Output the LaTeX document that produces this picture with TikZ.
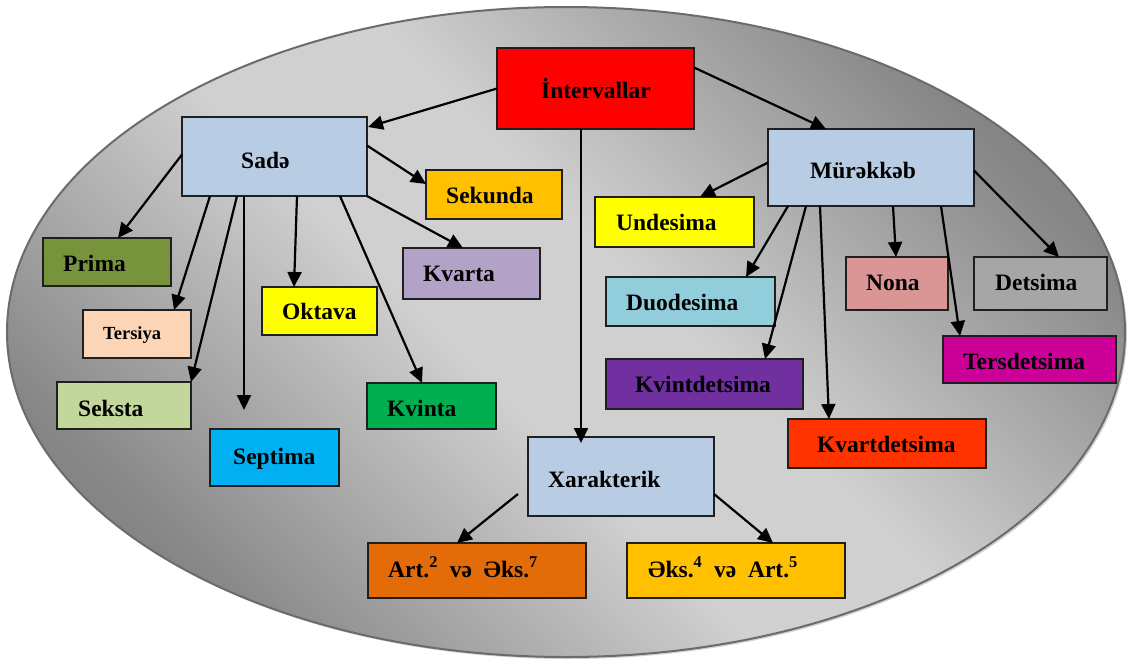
\documentclass[tikz,border=0pt]{standalone}
\usepackage{fontspec}
\setmainfont{Liberation Serif}
\usetikzlibrary{arrows.meta,calc,shadings}
\definecolor{gdark}{HTML}{858585}
\definecolor{glight}{HTML}{D0D0D0}
\definecolor{cred}{HTML}{FF0000}
\definecolor{cblue}{HTML}{B8CCE4}
\definecolor{corange}{HTML}{FFC000}
\definecolor{cyel}{HTML}{FFFF00}
\definecolor{cprima}{HTML}{77933C}
\definecolor{ckvarta}{HTML}{B2A2C7}
\definecolor{ctersiya}{HTML}{FBD5B5}
\definecolor{cseksta}{HTML}{C3D69B}
\definecolor{csept}{HTML}{00B0F0}
\definecolor{ckvinta}{HTML}{00B050}
\definecolor{cduo}{HTML}{92CDDC}
\definecolor{cnona}{HTML}{D99694}
\definecolor{cdets}{HTML}{A6A6A6}
\definecolor{cters}{HTML}{CC0099}
\definecolor{ckvint}{HTML}{7030A0}
\definecolor{ckvart}{HTML}{FF3300}
\definecolor{cart}{HTML}{E36C09}
\pgfdeclareverticalshading{ellgrad}{100bp}{color(0bp)=(gdark); color(25bp)=(gdark); color(45bp)=(glight); color(55bp)=(glight); color(75bp)=(gdark); color(100bp)=(gdark)}
\newcommand\mkbox[6]{\node[box, fill=#2, minimum width={#5-#3}, minimum height={#6-#4}] (#1) at ({(#3+#5)/2},{(#4+#6)/2}) {};}
\begin{document}
\begin{tikzpicture}[x=1pt,y=-1pt,
  box/.style={draw=black!88, line width=2pt, inner sep=0pt, outer sep=0pt},
  lbl/.style={inner sep=0pt, anchor=base west, font=\fontsize{23.5}{28}\selectfont\bfseries},
  slbl/.style={inner sep=0pt, anchor=base west, font=\fontsize{18.5}{22}\selectfont\bfseries},
  arr/.style={line width=2.2pt, -{Triangle[length=15pt,width=14pt]}},
]
\useasboundingbox (0,0) rectangle (1130,659);
% ellipse background
\fill[black!35, opacity=0.5] (568,334) ellipse [x radius=559, y radius=325];
\shade[shading=ellgrad, shading angle=-45] (566,332) ellipse [x radius=559, y radius=325];
\draw[line width=2pt, black!58] (566,332) ellipse [x radius=559, y radius=325];
% boxes
\mkbox{int}{cred}{497}{48}{694}{129}
\mkbox{sade}{cblue}{182}{117}{367}{196}
\mkbox{sek}{corange}{426}{170}{562}{219}
\mkbox{mur}{cblue}{768}{129}{974}{206}
\mkbox{und}{cyel}{595}{197}{754}{247}
\mkbox{prima}{cprima}{43}{238}{171}{286}
\mkbox{kvarta}{ckvarta}{403}{248}{540}{299}
\mkbox{nona}{cnona}{846}{257}{948}{310}
\mkbox{dets}{cdets}{974}{257}{1107}{310}
\mkbox{okt}{cyel}{262}{287}{377}{335}
\mkbox{duo}{cduo}{606}{277}{775}{326}
\mkbox{ters}{ctersiya}{83}{310}{191}{358}
\mkbox{tersdet}{cters}{943}{336}{1116}{383}
\mkbox{kvintdet}{ckvint}{606}{359}{803}{409}
\mkbox{seksta}{cseksta}{57}{382}{191}{429}
\mkbox{kvinta}{ckvinta}{367}{383}{496}{429}
\mkbox{sept}{csept}{210}{429}{339}{486}
\mkbox{kvartdet}{ckvart}{788}{419}{986}{468}
\mkbox{xar}{cblue}{528}{437}{714}{516}
\mkbox{art}{cart}{368}{543}{586}{598}
\mkbox{eks}{corange}{627}{543}{845}{598}
% labels
\node[lbl] (int-t) at (541,98) {İntervallar};
\node[lbl] (sade-t) at (241,168) {Sadə};
\node[lbl] (sek-t) at (446,203) {Sekunda};
\node[lbl] (mur-t) at (810,178) {Mürəkkəb};
\node[lbl] (und-t) at (616,230) {Undesima};
\node[lbl] (prima-t) at (63,271) {Prima};
\node[lbl] (kvarta-t) at (423,281) {Kvarta};
\node[lbl] (nona-t) at (866,290) {Nona};
\node[lbl] (dets-t) at (995,290) {Detsima};
\node[lbl] (okt-t) at (282,319) {Oktava};
\node[lbl] (duo-t) at (626,310) {Duodesima};
\node[slbl] (ters-t) at (103,339) {Tersiya};
\node[lbl] (tersdet-t) at (963,369) {Tersdetsima};
\node[lbl] (kvintdet-t) at (635,392) {Kvintdetsima};
\node[lbl] (seksta-t) at (78,416) {Seksta};
\node[lbl] (kvinta-t) at (387,416) {Kvinta};
\node[lbl] (sept-t) at (233,464) {Septima};
\node[lbl] (kvartdet-t) at (817,452) {Kvartdetsima};
\node[lbl] (xar-t) at (548,487) {Xarakterik};
\node[lbl] (art-t) at (388,577) {Art.\textsuperscript{2}\ \ və\ \ Əks.\textsuperscript{7}};
\node[lbl] (eks-t) at (648,577) {Əks.\textsuperscript{4}\ \ və\ \ Art.\textsuperscript{5}};
% connectors
\coordinate (sepend) at (244,410);
\draw[arr] (int.west) -- ($(sade.north east)+(1,10)$);
\draw[arr] ($(int.east)+(0,-21)$) -- ($(mur.north west)+(58,0)$);
\draw[arr] ($(int.south west)+(84,0)$) -- ($(xar.north west)+(53,6)$);
\draw[arr] ($(sade.west)+(0,-2)$) -- ($(prima.north west)+(75,0)$);
\draw[arr] ($(sade.east)+(0,-11)$) -- ($(sek.north west)+(0,14)$);
\draw[arr] (sade.south east) -- ($(kvarta.north west)+(60,0)$);
\draw[arr] ($(sade.south west)+(28,0)$) -- ($(ters.north east)+(-17,0)$);
\draw[arr] ($(sade.south west)+(55,0)$) -- (seksta.north east);
\draw[arr] ($(sade.south west)+(62,0)$) -- (sepend);
\draw[arr] ($(sade.south west)+(115,0)$) -- ($(okt.north west)+(32,0)$);
\draw[arr] ($(sade.south west)+(158,0)$) -- ($(kvinta.north west)+(55,0)$);
\draw[arr] ($(mur.west)+(0,-5)$) -- ($(und.north west)+(105,0)$);
\draw[arr] ($(mur.south west)+(20,0)$) -- ($(duo.north east)+(-29,0)$);
\draw[arr] ($(mur.south west)+(38,0)$) -- ($(kvintdet.north west)+(159,0)$);
\draw[arr] ($(mur.south west)+(52,0)$) -- ($(kvartdet.north west)+(41,0)$);
\draw[arr] ($(mur.south west)+(125,0)$) -- ($(nona.north west)+(50,0)$);
\draw[arr] ($(mur.south west)+(173,0)$) -- ($(tersdet.north west)+(17,0)$);
\draw[arr] ($(mur.east)+(0,3)$) -- ($(dets.north west)+(85,0)$);
\draw[arr] ($(xar.south west)+(-10,-22)$) -- ($(art.north west)+(89,0)$);
\draw[arr] ($(xar.south east)+(0,-22)$) -- ($(eks.north west)+(146,0)$);
\end{tikzpicture}
\end{document}
